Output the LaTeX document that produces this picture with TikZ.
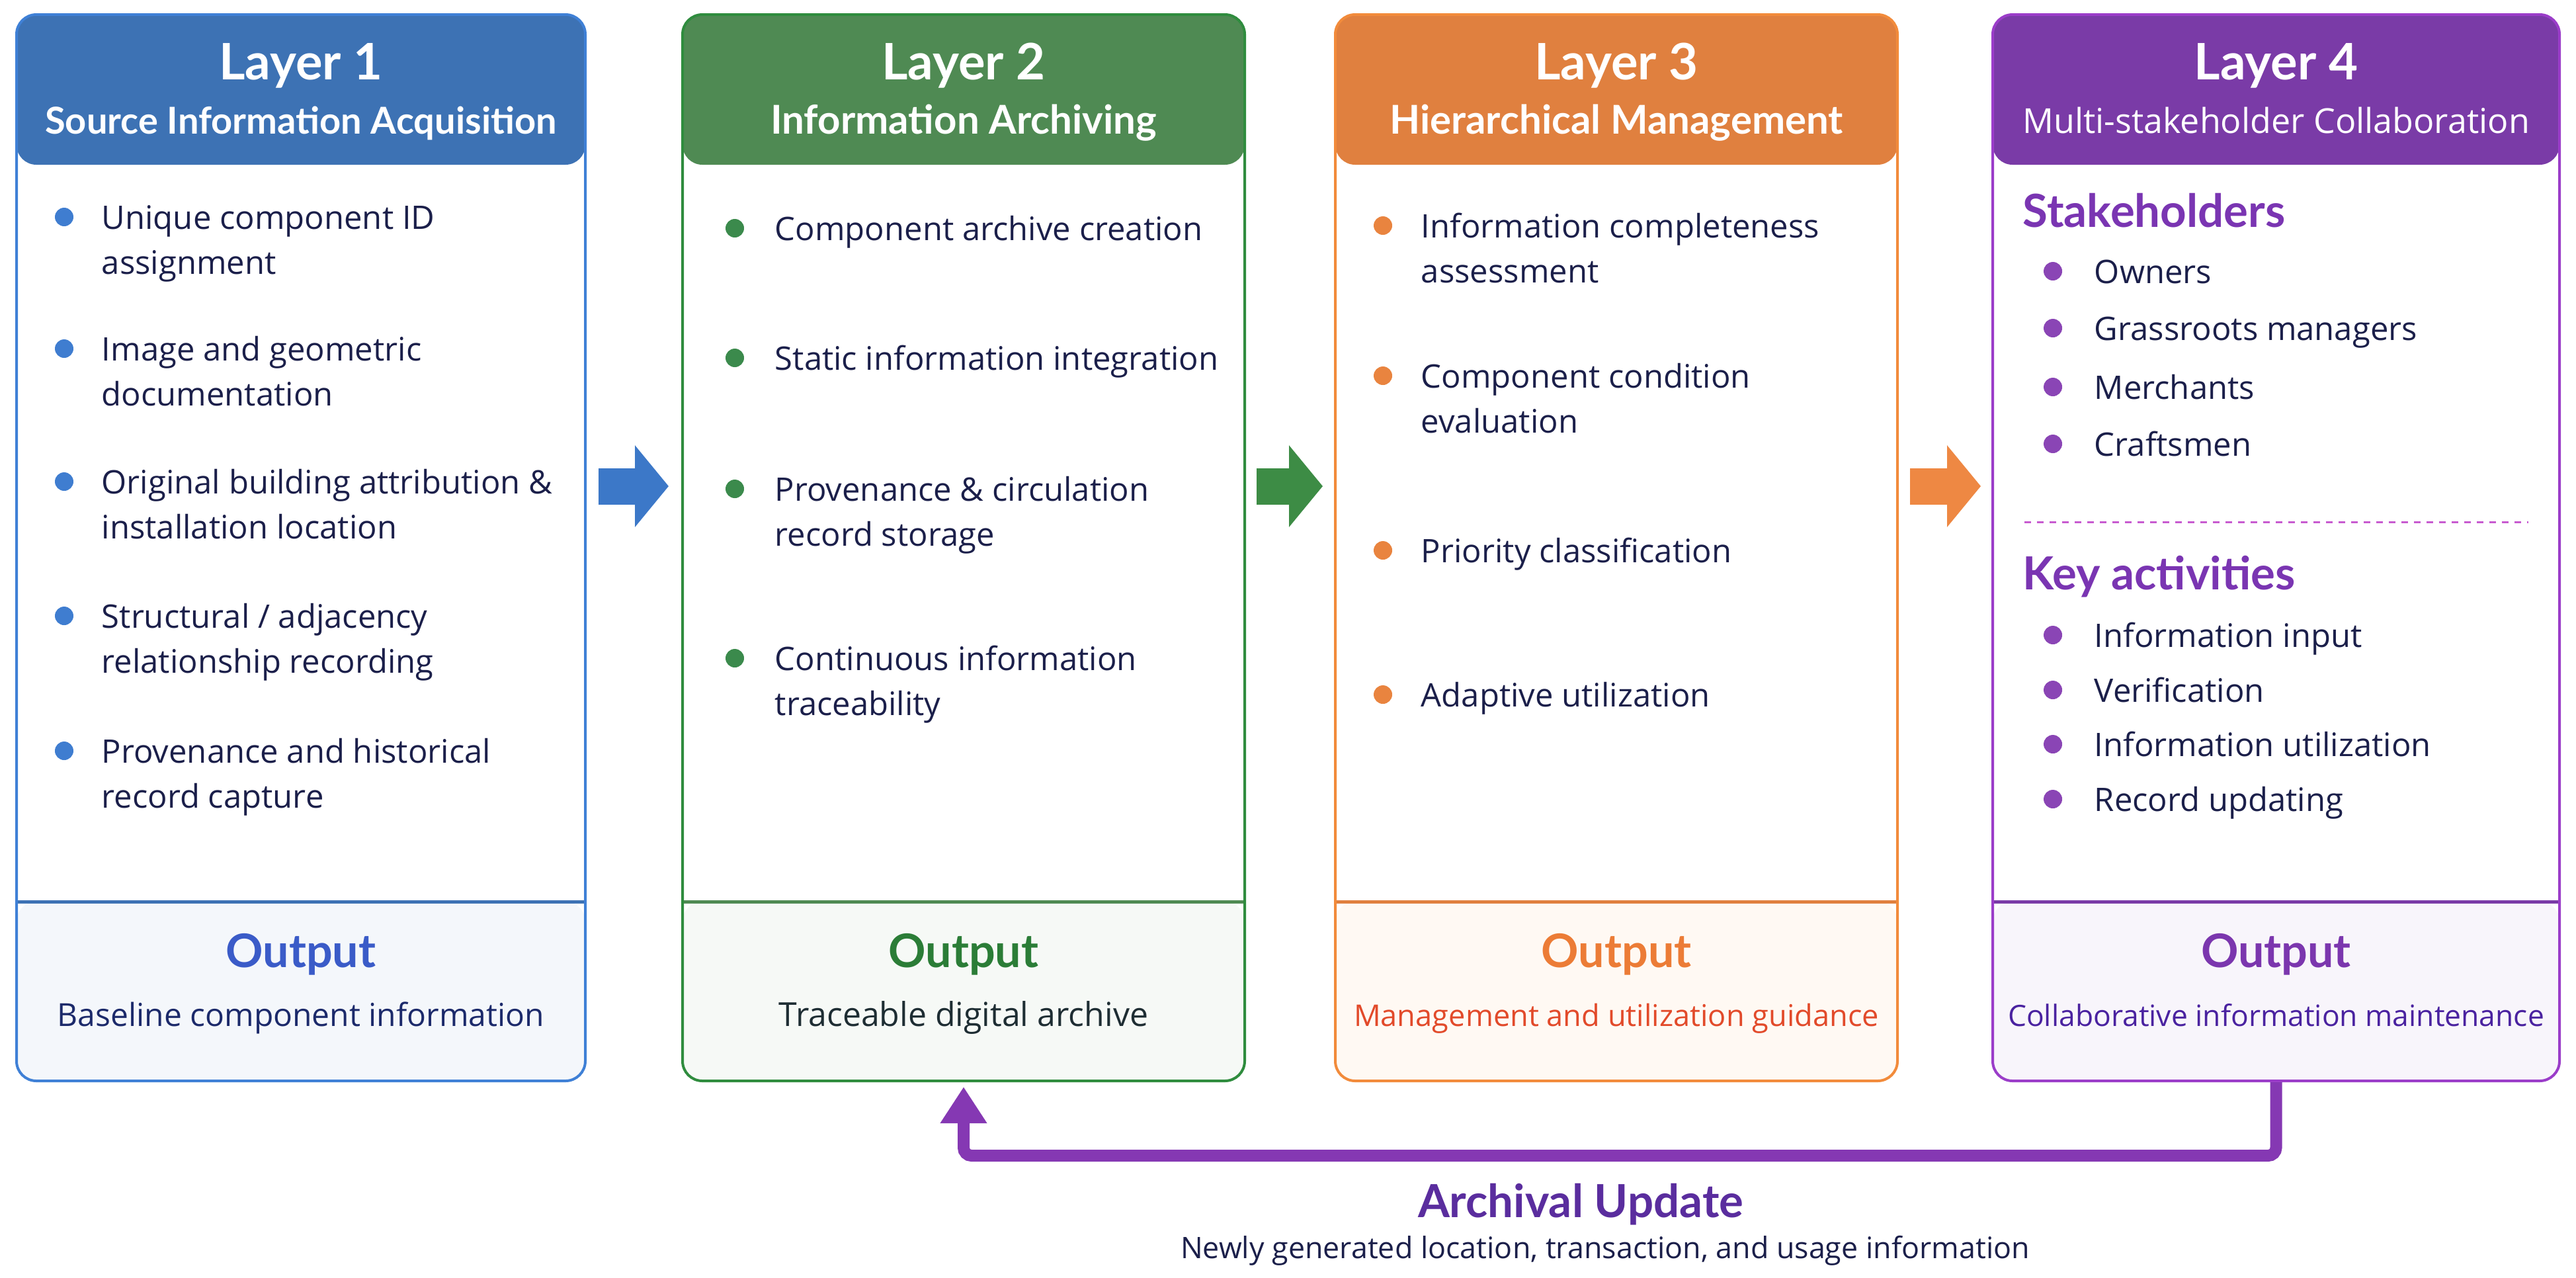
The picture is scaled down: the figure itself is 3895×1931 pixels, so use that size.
\documentclass[tikz,border=0pt]{standalone}
\usepackage{fontspec}
\setmainfont{Open Sans}
\newfontfamily\lato{Lato}
\usetikzlibrary{arrows.meta}
\definecolor{txt}{HTML}{1B1F4A}
\definecolor{bhead}{HTML}{3D72B4}\definecolor{bbord}{HTML}{3F80D6}\definecolor{bbul}{HTML}{3F7DD0}
\definecolor{bout}{HTML}{3A5BC8}\definecolor{bobg}{HTML}{F4F7FB}\definecolor{bsub}{HTML}{1C2A6B}
\definecolor{ghead}{HTML}{4F8A53}\definecolor{gbord}{HTML}{2F8C3E}\definecolor{gbul}{HTML}{3B8A4C}
\definecolor{gout}{HTML}{2B7D37}\definecolor{gobg}{HTML}{F6F9F6}\definecolor{gsub}{HTML}{1E2D33}
\definecolor{ohead}{HTML}{E0803F}\definecolor{obord}{HTML}{F28B3B}\definecolor{obul}{HTML}{E9843F}
\definecolor{oout}{HTML}{EC7C36}\definecolor{oobg}{HTML}{FFF9F3}\definecolor{osub}{HTML}{E24A2A}
\definecolor{phead}{HTML}{7A3BA7}\definecolor{pbord}{HTML}{9B3DC9}\definecolor{pbul}{HTML}{8A45B5}
\definecolor{pout}{HTML}{7B36AE}\definecolor{pobg}{HTML}{F8F5FB}\definecolor{psub}{HTML}{4A22A0}
\definecolor{phd}{HTML}{7A35B2}\definecolor{pdash}{HTML}{C85BD0}
\definecolor{arrb}{HTML}{3C78C8}\definecolor{arrg}{HTML}{3D8C45}\definecolor{arro}{HTML}{EE8843}
\definecolor{fbc}{HTML}{8538B3}\definecolor{fbt}{HTML}{5A2D9E}
\newcommand\itm[1]{\begin{tabular}[t]{@{}l@{}}#1\end{tabular}}
\newcommand\bitem[6]{%
  \fill[#2] (#3,{#5-18}) circle (3.5pt);
  \node[body, anchor=base west] (#1) at (#4,#5) {\itm{#6}};}
\tikzset{
  lbox/.style={draw=#1bord, line width=1pt, rounded corners=7.5pt, minimum height=403pt,
    inner sep=0pt, fill=white,
    path picture={
      \fill[#1head] (path picture bounding box.north west) rectangle
        ([yshift=-56.75pt]path picture bounding box.north east);
      \fill[#1obg] ([yshift=67.75pt]path picture bounding box.south west) rectangle
        (path picture bounding box.south east);
      \draw[#1head, line width=1.25pt] ([yshift=67.75pt]path picture bounding box.south west) --
        ([yshift=67.75pt]path picture bounding box.south east);
    }},
  body/.style={font=\fontsize{12.25pt}{17pt}\selectfont, text=txt, inner sep=0pt},
  htitle/.style={font=\lato\bfseries\fontsize{19pt}{22pt}\selectfont, text=white, anchor=base, inner sep=0pt},
  hsub/.style={font=\lato\bfseries\fontsize{15pt}{18pt}\selectfont, text=white, anchor=base, inner sep=0pt},
  hsubr/.style={font=\fontsize{13pt}{16pt}\selectfont, text=white, anchor=base, inner sep=0pt},
  outt/.style={font=\lato\bfseries\fontsize{17.5pt}{20pt}\selectfont, anchor=base, inner sep=0pt},
  outs/.style={font=\fontsize{12pt}{15pt}\selectfont, anchor=base, inner sep=0pt},
  sechead/.style={font=\lato\bfseries\fontsize{17.25pt}{20pt}\selectfont, text=phd, anchor=base west, inner sep=0pt},
  barrow/.style={line width=13.75pt, draw=#1, -{Triangle[length=12.75pt, width=30.25pt]}},
  fbarrow/.style={line width=4.5pt, draw=fbc, rounded corners=3pt, -{Triangle[length=13.75pt, width=16.75pt]}},
}
\begin{document}
\begin{tikzpicture}[x=0.25pt, y=-0.25pt]
\fill[white] (0,0) rectangle (3895,1931);
\useasboundingbox (0,0) rectangle (3895,1931);

% layer boxes
\node[lbox=b, minimum width=215pt] (L1) at (455,828) {};
\node[lbox=g, minimum width=212.5pt] (L2) at (1457,828) {};
\node[lbox=o, minimum width=212.5pt] (L3) at (2444,828) {};
\node[lbox=p, minimum width=214.25pt] (L4) at (3441.5,828) {};

% headers
\node[htitle] (h1t) at (455,120) {Layer 1};
\node[hsub, font=\lato\bfseries\fontsize{14pt}{17pt}\selectfont] (h1s) at (455,202) {Source Information Acquisition};
\node[htitle] (h2t) at (1457,120) {Layer 2};
\node[hsub] (h2s) at (1457,202) {Information Archiving};
\node[htitle] (h3t) at (2444,120) {Layer 3};
\node[hsub] (h3s) at (2444,202) {Hierarchical Management};
\node[htitle] (h4t) at (3441.5,120) {Layer 4};
\node[hsubr] (h4s) at (3441.5,201) {Multi-stakeholder Collaboration};

% layer 1 items
\bitem{a1}{bbul}{97}{153}{346}{Unique component ID\\assignment}
\bitem{a2}{bbul}{97}{153}{545}{Image and geometric\\documentation}
\bitem{a3}{bbul}{97}{153}{746}{Original building attribution \&\\installation location}
\bitem{a4}{bbul}{97}{153}{949}{Structural / adjacency\\relationship recording}
\bitem{a5}{bbul}{97}{153}{1153}{Provenance and historical\\record capture}

% layer 2 items
\bitem{b1}{gbul}{1111}{1171}{363}{Component archive creation}
\bitem{b2}{gbul}{1111}{1171}{559}{Static information integration}
\bitem{b3}{gbul}{1111}{1171}{757}{Provenance \& circulation\\record storage}
\bitem{b4}{gbul}{1111}{1171}{1013}{Continuous information\\traceability}

% layer 3 items
\bitem{c1}{obul}{2091}{2148}{359}{Information completeness\\assessment}
\bitem{c2}{obul}{2091}{2148}{586}{Component condition\\evaluation}
\bitem{c3}{obul}{2091}{2148}{850}{Priority classification}
\bitem{c4}{obul}{2091}{2148}{1068}{Adaptive utilization}

% layer 4 items
\node[sechead] (s1) at (3058,343) {Stakeholders};
\bitem{d1}{pbul}{3104}{3166}{428}{Owners}
\bitem{d2}{pbul}{3104}{3166}{514}{Grassroots managers}
\bitem{d3}{pbul}{3104}{3166}{603}{Merchants}
\bitem{d4}{pbul}{3104}{3166}{689}{Craftsmen}
\draw[pdash, line width=0.75pt, dash pattern=on 2.5pt off 2.25pt] (3061,789) -- (3823,789);
\node[sechead] (s2) at (3058,891) {Key activities};
\bitem{e1}{pbul}{3104}{3166}{978}{Information input}
\bitem{e2}{pbul}{3104}{3166}{1061}{Verification}
\bitem{e3}{pbul}{3104}{3166}{1143}{Information utilization}
\bitem{e4}{pbul}{3104}{3166}{1226}{Record updating}

% outputs
\node[outt, text=bout] (o1t) at (455,1462) {Output};
\node[outs, text=bsub] (o1s) at (455,1551) {Baseline component information};
\node[outt, text=gout] (o2t) at (1457,1462) {Output};
\node[outs, text=gsub, font=\fontsize{12.5pt}{15pt}\selectfont] (o2s) at (1457,1551) {Traceable digital archive};
\node[outt, text=oout] (o3t) at (2444,1462) {Output};
\node[outs, text=osub, font=\fontsize{11.3pt}{14pt}\selectfont] (o3s) at (2444,1551) {Management and utilization guidance};
\node[outt, text=pout] (o4t) at (3441.5,1462) {Output};
\node[outs, text=psub, font=\fontsize{11.1pt}{14pt}\selectfont] (o4s) at (3441.5,1551) {Collaborative information maintenance};

% arrows between layers
\draw[barrow=arrb] ([shift={(18,715)}]L1.north east) -- ([shift={(-19,715)}]L2.north west);
\draw[barrow=arrg] ([shift={(16,715)}]L2.north east) -- ([shift={(-17,715)}]L3.north west);
\draw[barrow=arro] ([shift={(17,715)}]L3.north east) -- ([shift={(-16,715)}]L4.north west);

% feedback
\draw[fbarrow] (L4.south) -- ++(0,111) -| ([shift={(0,7)}]L2.south);
\node[font=\lato\bfseries\fontsize{17.25pt}{20pt}\selectfont, text=fbt, anchor=base, inner sep=0pt] (fb1) at (2390,1840) {Archival Update};
\node[font=\fontsize{11.2pt}{14pt}\selectfont, text=txt, anchor=base, inner sep=0pt] (fb2) at (2427,1902) {Newly generated location, transaction, and usage information};
\end{tikzpicture}
\end{document}
